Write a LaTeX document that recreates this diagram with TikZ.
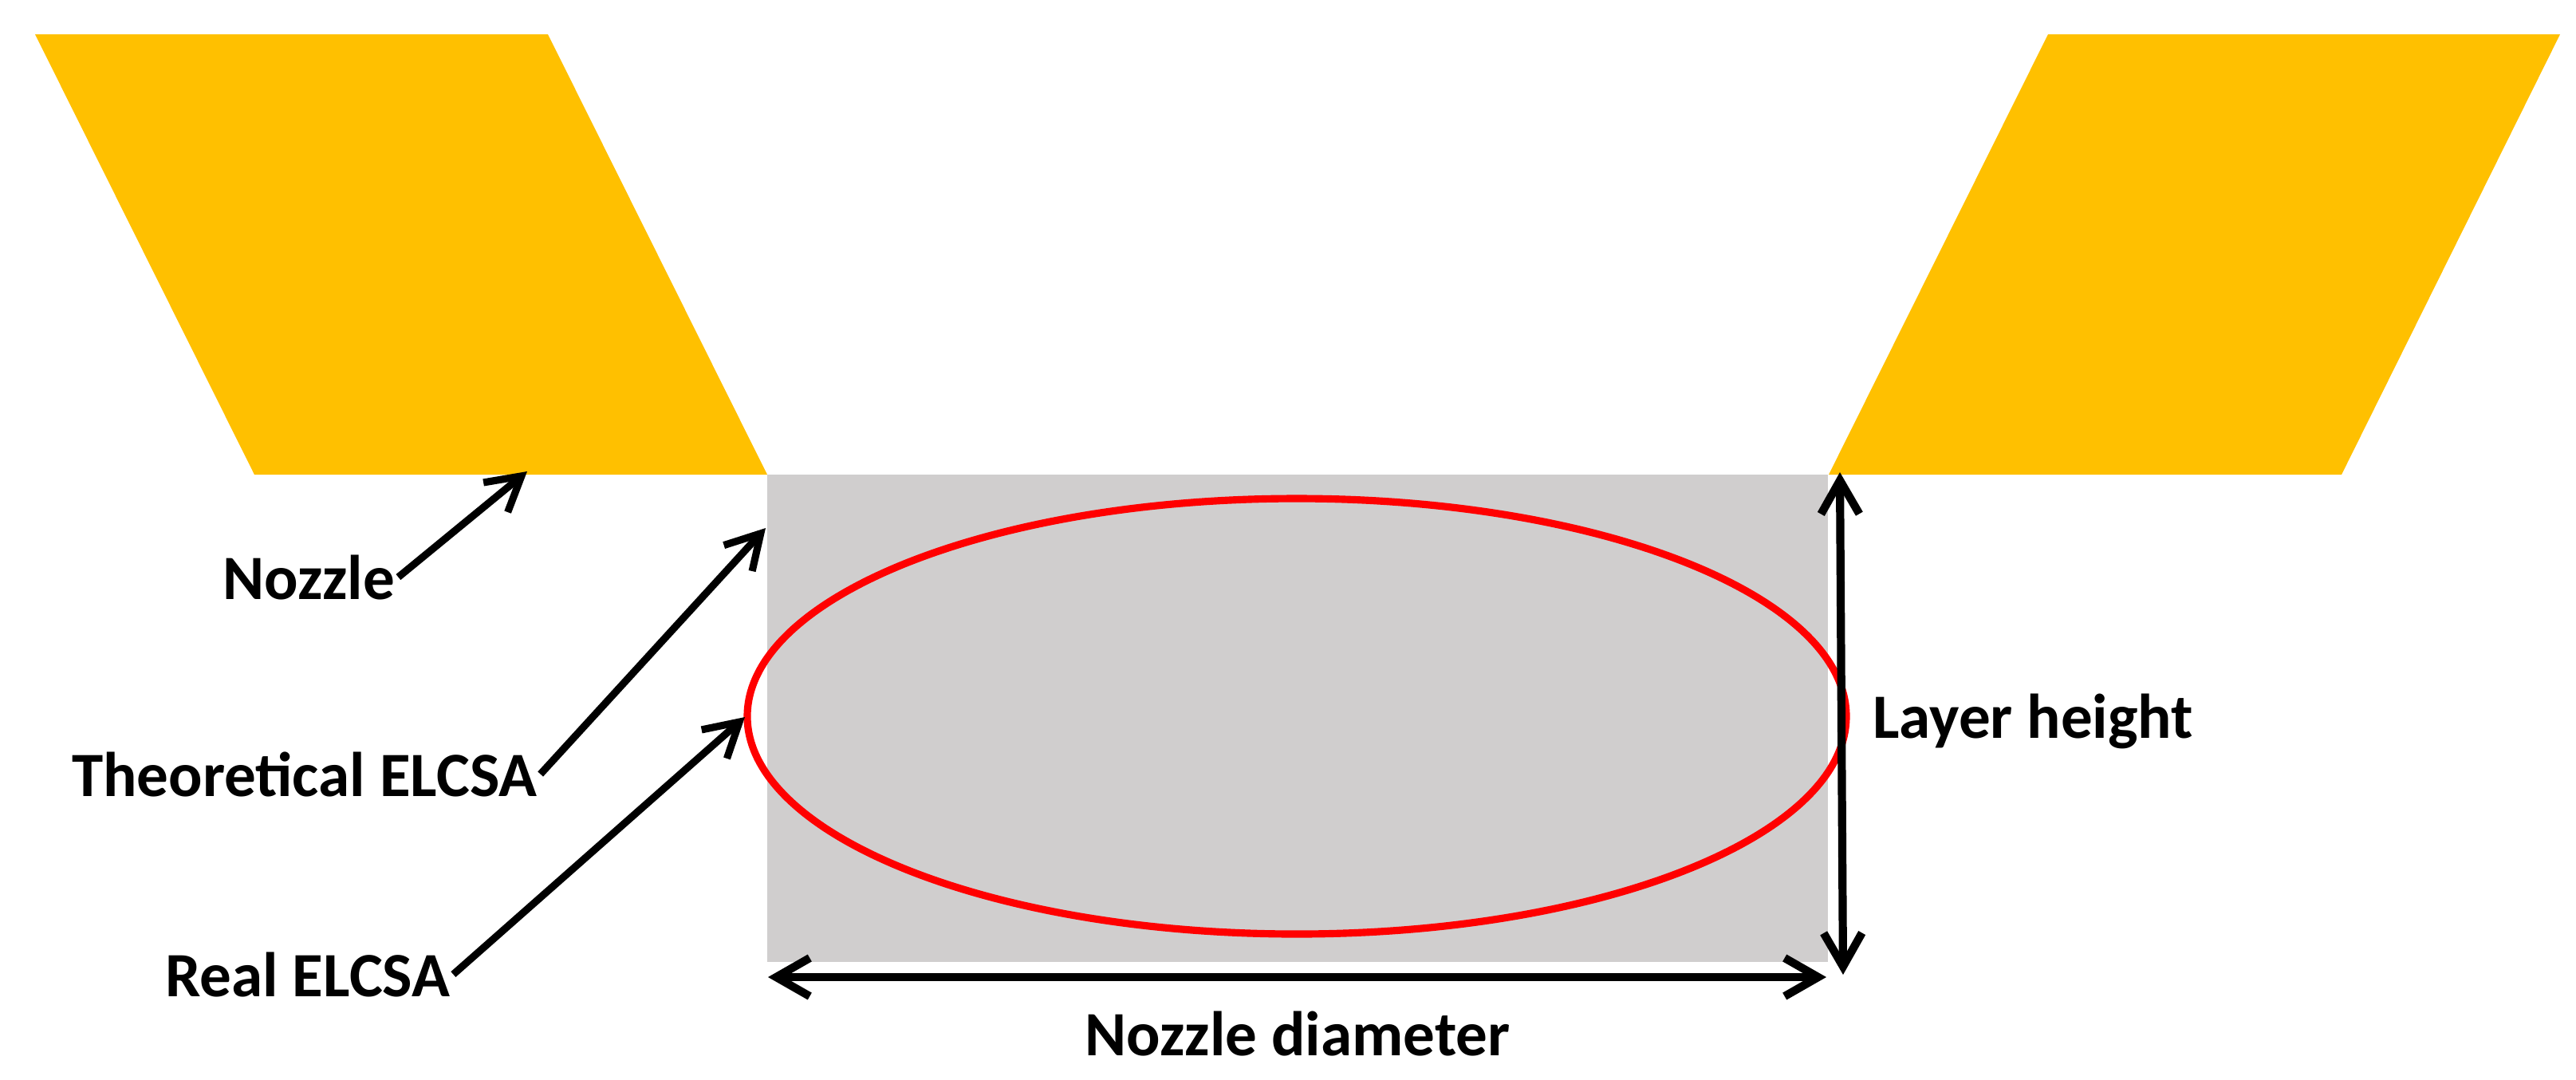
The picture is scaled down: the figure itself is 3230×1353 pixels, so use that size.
\documentclass[tikz,border=0pt]{standalone}
\usepackage{fontspec}
\setmainfont{Carlito}
\usetikzlibrary{positioning}
\usetikzlibrary{arrows.meta}
\definecolor{nozzlegold}{HTML}{FFC000}
\definecolor{beadgray}{HTML}{D0CECE}
\tikzset{
    nozzlepart/.style = {fill=nozzlegold,draw=none},
    beadbox/.style = {fill=beadgray,draw=none},
    realbead/.style = {draw=red,line width=2.6pt},
    lbl/.style = {inner sep=1pt,font=\bfseries\fontsize{22.5}{26}\selectfont},
    edgen/.style = {-{Straight Barb[length=0.42cm,width=0.48cm]},line width=2.6pt},
    edged/.style = {{Straight Barb[length=0.42cm,width=0.48cm]}-{Straight Barb[length=0.42cm,width=0.48cm]},line width=2.9pt}
}

\begin{document}
\begin{tikzpicture}[x=0.01cm,y=-0.01cm]
\useasboundingbox (0,0) rectangle (3230,1353);
% nozzle walls and bead
\fill[nozzlepart] (44,43) -- (687,43) -- (962,595) -- (319,595) -- cycle;
\fill[nozzlepart] (2568,43) -- (3210,43) -- (2936,595) -- (2293,595) -- cycle;
\fill[beadbox] (962,595) rectangle (2292,1206);
\draw[realbead] (1626,898) ellipse [x radius=689, y radius=273];
%
\node[lbl, anchor=base west] at (275, 751) (nozzlelbl) {Nozzle};
\node[lbl, anchor=base west] at (86, 998) (theolbl) {Theoretical ELCSA};
\node[lbl, anchor=base west] at (203, 1249) (reallbl) {Real ELCSA};
\node[lbl, anchor=base west] at (2344, 925) (layerlbl) {Layer height};
\node[lbl, anchor=base] at (1627, 1323) (diamlbl) {Nozzle diameter};
%
\coordinate (nozzletip) at (661, 591);
\coordinate (theotip) at (960, 662);
\coordinate (realtip) at (934, 899);
\coordinate (lhtop) at (2307, 592);
\coordinate (lhbot) at (2311, 1222);
\coordinate (ndleft) at (963, 1225);
\coordinate (ndright) at (2290, 1225);
%
\draw[edgen] (nozzlelbl.east) -- (nozzletip);
\draw[edgen] (theolbl.east) -- (theotip);
\draw[edgen] (reallbl.east) -- (realtip);
\draw[edged] (lhtop) -- (lhbot);
\draw[edged] (ndleft) -- (ndright);
\end{tikzpicture}
\end{document}
